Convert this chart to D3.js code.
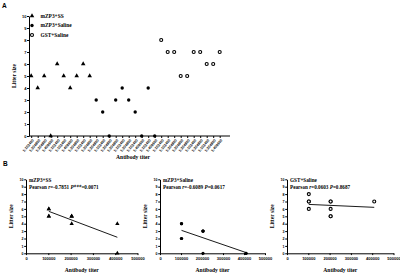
<!DOCTYPE html>
<html>
<head>
<meta charset="utf-8">
<script src="https://cdn.jsdelivr.net/npm/d3@7"></script>
<style>
  body { margin: 0; background: #fff; }
  svg { font-family: "Liberation Serif", "Times New Roman", serif; font-weight: bold; }
</style>
</head>
<body>
<svg id="chart" width="400" height="274"></svg>
<script>
// Litter size of each mouse, in the order of panel A
const groups = ["mZP3+SS", "mZP3+Saline", "GST+Saline"];
const ssLitter = [5, 4, 5, 0, 6, 5, 4, 5, 6, 5];
const salineLitter = [3, 2, 0, 3, 4, 3, 2, 0, 4, 0];
const gstLitter = [8, 7, 7, 5, 5, 7, 7, 6, 6, 7];
// antibody titer of the same mice
const ssTiter = [102400, 204800, 204800, 409600, 102400, 102400, 409600, 204800, 102400, 204800];
const salineTiter = [204800, 102400, 204800, 204800, 102400, 204800, 102400, 409600, 102400, 409600];
const gstTiter = [102400, 102400, 204800, 204800, 204800, 102400, 204800, 102400, 204800, 409600];
// correlation text printed on panel B
const statR = ["-0.7851", "-0.6089", "0.0603"];
const statP = ["P***=0.0071", "P=0.0617", "P=0.8687"];
const yTicks = [0, 1, 2, 3, 4, 5, 6, 7, 8, 9, 10];
const xTicksB = [0, 100000, 200000, 300000, 400000, 500000];

const litters = [ssLitter, salineLitter, gstLitter];
const titers = [ssTiter, salineTiter, gstTiter];

const svg = d3.select("#chart");

// marker for each group
function drawMarker(sel, g, big) {
  if (g == 0) {
    sel.append("path")
      .attr("d", d3.symbol().type(d3.symbolTriangle).size(big ? 9 : 8)())
      .attr("fill", "#000");
  } else if (g == 1) {
    sel.append("circle").attr("r", big ? 1.7 : 1.6).attr("fill", "#000");
  } else {
    sel.append("circle").attr("r", big ? 1.5 : 1.5)
      .attr("fill", "#fff").attr("stroke", "#000").attr("stroke-width", 1.1);
  }
}

// ---------- Panel A ----------
svg.append("text").attr("x", 2).attr("y", 8)
  .style("font-family", "Liberation Sans, Arial, sans-serif")
  .style("font-size", "6.5px").text("A");

const allA = [];
groups.forEach(function (name, g) {
  litters[g].forEach(function (v, i) {
    allA.push({ id: g * 10 + i, group: g, litter: v, titer: titers[g][i] });
  });
});

const xA = d3.scalePoint()
  .domain(allA.map(d => d.id))
  .range([31.2, 219.7]);
const yA = d3.scaleLinear().domain([0, 10]).range([136, 16]);

const ayA = svg.append("g").attr("transform", "translate(29,0)")
  .call(d3.axisLeft(yA).tickValues(yTicks).tickSize(2).tickSizeOuter(0));
ayA.selectAll("text").style("font-size", "4px").attr("x", -2.5);

const axA = svg.append("g").attr("transform", "translate(0,136)")
  .call(d3.axisBottom(xA).tickSize(2).tickSizeOuter(0)
    .tickFormat(function (id) { return "1:" + allA[id].titer; }));
axA.select(".domain").remove();
svg.append("line").attr("x1", 29).attr("x2", 230).attr("y1", 136).attr("y2", 136)
  .attr("stroke", "#000");
axA.selectAll("text")
  .style("font-size", "3.7px")
  .attr("text-anchor", "end")
  .attr("transform", "translate(1.5,3.5) rotate(-50)")
  .attr("y", 0).attr("dy", "0.35em");

svg.append("text").attr("x", 133).attr("y", 159).attr("text-anchor", "middle")
  .style("font-size", "5.6px").text("Antibody titer");
svg.append("text").attr("transform", "translate(15.5,76) rotate(-90)")
  .attr("text-anchor", "middle").style("font-size", "5.6px").text("Litter size");

svg.selectAll(".ptA").data(allA).enter().append("g")
  .attr("class", "ptA")
  .attr("transform", d => "translate(" + xA(d.id) + "," + yA(d.litter) + ")")
  .each(function (d) { drawMarker(d3.select(this), d.group, true); });

// legend
groups.forEach(function (name, g) {
  const row = svg.append("g").attr("transform", "translate(32," + (16 + g * 9.5) + ")");
  drawMarker(row, g, true);
  row.append("text").attr("x", 8.5).attr("dy", "0.35em")
    .style("font-size", "5.4px").text(name);
});

// ---------- Panel B ----------
svg.append("text").attr("x", 3).attr("y", 166)
  .style("font-family", "Liberation Sans, Arial, sans-serif")
  .style("font-size", "6.5px").text("B");

const subX = [[26, 137.5], [160, 265], [287, 393.5]];
const yB = d3.scaleLinear().domain([0, 10]).range([253.3, 179.3]);

groups.forEach(function (name, g) {
  const xB = d3.scaleLinear().domain([0, 500000]).range(subX[g]);
  const x0 = subX[g][0];

  const ay = svg.append("g").attr("transform", "translate(" + x0 + ",0)")
    .call(d3.axisLeft(yB).tickValues(yTicks).tickSize(1.8).tickSizeOuter(0));
  ay.selectAll("text").style("font-size", "3.6px").attr("x", -2.4);

  const ax = svg.append("g").attr("transform", "translate(0,253.3)")
    .call(d3.axisBottom(xB).tickValues(xTicksB).tickSize(1.8).tickSizeOuter(0)
      .tickFormat(d3.format("d")));
  ax.selectAll("text").style("font-size", "4px").attr("y", 3.5);

  const mid = (subX[g][0] + subX[g][1]) / 2;
  svg.append("text").attr("x", mid).attr("y", 271.5).attr("text-anchor", "middle")
    .style("font-size", "5.6px").text("Antibody titer");
  svg.append("text")
    .attr("transform", "translate(" + (x0 - 13.5) + ",216.3) rotate(-90)")
    .attr("text-anchor", "middle").style("font-size", "5.6px").text("Litter size");

  // least squares fit of litter size on titer
  const xs = titers[g], ys = litters[g];
  const mx = d3.mean(xs), my = d3.mean(ys);
  const sxy = d3.sum(xs, (x, i) => (x - mx) * (ys[i] - my));
  const sxx = d3.sum(xs, x => (x - mx) * (x - mx));
  const slope = sxy / sxx;
  const ext = d3.extent(xs);
  svg.append("line")
    .attr("x1", xB(ext[0])).attr("y1", yB(my + slope * (ext[0] - mx)))
    .attr("x2", xB(ext[1])).attr("y2", yB(my + slope * (ext[1] - mx)))
    .attr("stroke", "#000").attr("stroke-width", 0.9);

  svg.selectAll(".ptB" + g).data(d3.range(xs.length)).enter().append("g")
    .attr("class", "ptB" + g)
    .attr("transform", i => "translate(" + xB(xs[i]) + "," + yB(ys[i]) + ")")
    .each(function () { drawMarker(d3.select(this), g, false); });

  svg.append("text").attr("x", x0 + 3).attr("y", 182.3)
    .style("font-size", "5.2px").text(name);
  const st = svg.append("text").attr("x", x0 + 3).attr("y", 189)
    .style("font-size", "5.2px");
  st.append("tspan").text("Pearson ");
  st.append("tspan").style("font-style", "italic").text("r");
  st.append("tspan").text("=" + statR[g] + " ");
  const pName = statP[g].split("=")[0];
  st.append("tspan").style("font-style", "italic").text(pName);
  st.append("tspan").text("=" + statP[g].split("=")[1]);
});
</script>
</body>
</html>
